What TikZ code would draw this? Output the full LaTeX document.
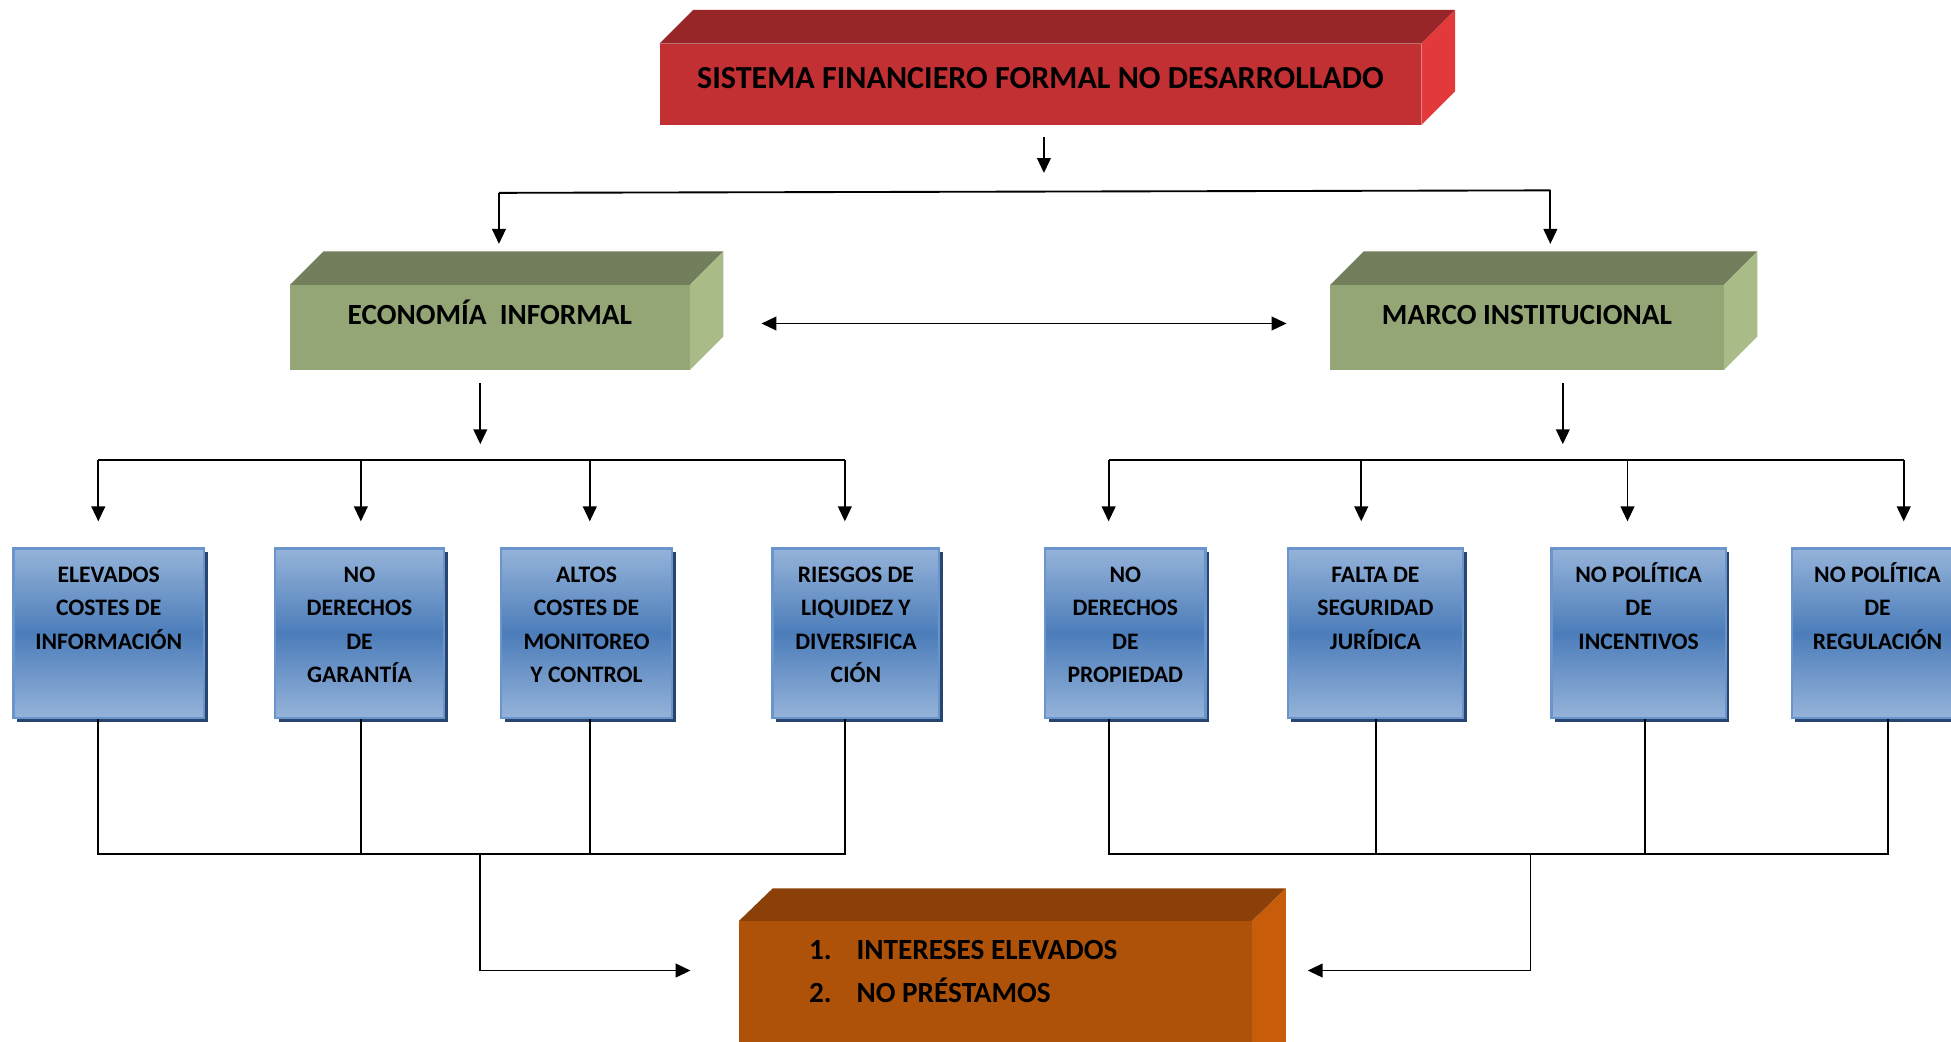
\documentclass[tikz,border=0pt]{standalone}
\usepackage{fontspec}
\setmainfont{Carlito}
\usetikzlibrary{arrows.meta,shadows}
\definecolor{redF}{HTML}{C33033}
\definecolor{redT}{HTML}{982628}
\definecolor{redS}{HTML}{E23A3A}
\definecolor{grnF}{HTML}{94A576}
\definecolor{grnT}{HTML}{737E5C}
\definecolor{grnS}{HTML}{A9BC88}
\definecolor{orgF}{HTML}{AD5208}
\definecolor{orgT}{HTML}{8A4008}
\definecolor{orgS}{HTML}{C75C0A}
\definecolor{blueL}{HTML}{95B3D9}
\definecolor{blueD}{HTML}{4C7DBA}
\definecolor{blueB}{HTML}{6A95CC}
\definecolor{blueS}{HTML}{27456E}
\tikzset{
  ln/.style={line width=1.5pt, black},
  arr/.style={ln, -{Triangle[length=12pt,width=11pt]}},
  darr/.style={ln, {Triangle[length=12pt,width=11pt]}-{Triangle[length=12pt,width=11pt]}},
  face/.style={rectangle, draw=none, inner sep=0pt, anchor=north west},
  bluebox/.style={rectangle, inner sep=0pt, anchor=north west, draw=blueB, line width=1.8pt,
    top color=blueL, bottom color=blueL, middle color=blueD,
    general shadow={fill=blueS, shadow xshift=3pt, shadow yshift=-3pt}},
  bigtxt/.style={font=\bfseries\fontsize{25.8}{30}\selectfont},
  midtxt/.style={font=\bfseries\fontsize{23.5}{28}\selectfont},
}
\newcommand{\bt}[2]{\parbox[t][136pt][t]{#1pt}{\centering\bfseries\fontsize{19}{27}\selectfont\vspace*{8pt}\strut #2}}
\begin{document}
\begin{tikzpicture}[x=1pt,y=-1pt]
\useasboundingbox (0,0) rectangle (1568,837);
\clip (0,0) rectangle (1568,837);
% top red box
\node[face, fill=redF, minimum width=612pt, minimum height=65pt] (top) at (530,35) {};
\fill[redT] (top.north west) -- ++(27pt,27pt) -- ([shift={(27pt,27pt)}]top.north east) -- (top.north east) -- cycle;
\fill[redS] (top.north east) -- ++(27pt,27pt) -- ([shift={(27pt,27pt)}]top.south east) -- (top.south east) -- cycle;
\node[bigtxt] (toptxt) at ([yshift=5pt]top.center) {SISTEMA FINANCIERO FORMAL NO DESARROLLADO};
% green boxes
\node[face, fill=grnF, minimum width=321pt, minimum height=68pt] (eco) at (233,229) {};
\fill[grnT] (eco.north west) -- ++(27pt,27pt) -- ([shift={(27pt,27pt)}]eco.north east) -- (eco.north east) -- cycle;
\fill[grnS] (eco.north east) -- ++(27pt,27pt) -- ([shift={(27pt,27pt)}]eco.south east) -- (eco.south east) -- cycle;
\node[midtxt, anchor=base] (ecotxt) at ([yshift=2.5pt]eco.center) {ECONOMÍA\ \ INFORMAL};
\node[face, fill=grnF, minimum width=316pt, minimum height=68pt] (mar) at (1069,229) {};
\fill[grnT] (mar.north west) -- ++(27pt,27pt) -- ([shift={(27pt,27pt)}]mar.north east) -- (mar.north east) -- cycle;
\fill[grnS] (mar.north east) -- ++(27pt,27pt) -- ([shift={(27pt,27pt)}]mar.south east) -- (mar.south east) -- cycle;
\node[midtxt, anchor=base] (martxt) at ([yshift=2.5pt]mar.center) {MARCO INSTITUCIONAL};
% orange box
\node[face, fill=orgF, minimum width=412pt, minimum height=130pt] (res) at (594,740) {};
\fill[orgT] (res.north west) -- ++(27pt,26pt) -- ([shift={(27pt,26pt)}]res.north east) -- (res.north east) -- cycle;
\fill[orgS] (res.north east) -- ++(27pt,26pt) -- ([shift={(27pt,26pt)}]res.south east) -- (res.south east) -- cycle;
\node[anchor=base west, inner sep=0pt, font=\bfseries\fontsize{23.5}{34}\selectfont] (restxt) at (650,771.5)
  {\begin{tabular}[t]{@{}l@{\hspace{20pt}}l@{}}1. & INTERESES ELEVADOS\\ 2. & NO PRÉSTAMOS\end{tabular}};
% blue boxes
\node[bluebox] (b1) at (10,440) {\bt{153}{ELEVADOS\\COSTES DE\\INFORMACIÓN}};
\node[bluebox] (b2) at (220,440) {\bt{136}{NO\\DERECHOS\\DE\\GARANTÍA}};
\node[bluebox] (b3) at (402,440) {\bt{137}{ALTOS\\COSTES DE\\MONITOREO\\Y CONTROL}};
\node[bluebox] (b4) at (620,440) {\bt{134}{RIESGOS DE\\LIQUIDEZ Y\\DIVERSIFICA\\CIÓN}};
\node[bluebox] (b5) at (839,440) {\bt{129}{NO\\DERECHOS\\DE\\PROPIEDAD}};
\node[bluebox] (b6) at (1034,440) {\bt{141}{FALTA DE\\SEGURIDAD\\JURÍDICA}};
\node[bluebox] (b7) at (1246,440) {\bt{140}{NO POLÍTICA\\DE\\INCENTIVOS}};
\node[bluebox] (b8) at (1439,440) {\bt{138}{NO POLÍTICA\\DE\\REGULACIÓN}};
% top connectors
\coordinate (t1) at (839,110); \coordinate (t2) at (839,139);
\draw[arr] (t1) -- (t2);
\coordinate (sl) at (401,155); \coordinate (sr) at (1246,153);
\coordinate (sle) at (401,196); \coordinate (sre) at (1246,196);
\draw[ln] (sl) -- (sr);
\draw[arr] (sl) -- (sle);
\draw[arr] (sr) -- (sre);
\coordinate (d1) at (612,260); \coordinate (d2) at (1034,260);
\draw[darr] (d1) -- (d2);
% distribution left
\coordinate (l1) at (386,308); \coordinate (l2) at (386,357);
\draw[arr] (l1) -- (l2);
\coordinate (la) at (79,370); \coordinate (lb) at (290,370); \coordinate (lc) at (474,370); \coordinate (ld) at (679,370);
\draw[ln] (la) -- (ld);
\foreach \c in {la,lb,lc,ld} \draw[arr] (\c) -- ++(0,49);
% distribution right
\coordinate (r1) at (1256,308); \coordinate (r2) at (1256,357);
\draw[arr] (r1) -- (r2);
\coordinate (ra) at (891,370); \coordinate (rb) at (1094,370); \coordinate (rc) at (1308,370); \coordinate (rd) at (1530,370);
\draw[ln] (ra) -- (rd);
\foreach \c in {ra,rb,rc,rd} \draw[arr] (\c) -- ++(0,49);
% bottom left collector
\coordinate (ma) at (79,686); \coordinate (mb) at (290,686); \coordinate (mc) at (474,686); \coordinate (md) at (679,686);
\draw[ln] (b1.south -| ma) -- (ma) -- (md) -- (b4.south -| md);
\draw[ln] (b2.south -| mb) -- (mb);
\draw[ln] (b3.south -| mc) -- (mc);
\coordinate (mj) at (386,686); \coordinate (me) at (555,780);
\draw[arr] (mj) |- (me);
% bottom right collector
\coordinate (na) at (891,686); \coordinate (nb) at (1106,686); \coordinate (nc) at (1322,686); \coordinate (nd) at (1517,686);
\draw[ln] (b5.south -| na) -- (na) -- (nd) -- (b8.south -| nd);
\draw[ln] (b6.south -| nb) -- (nb);
\draw[ln] (b7.south -| nc) -- (nc);
\coordinate (nj) at (1230,686); \coordinate (ne) at (1051,780);
\draw[arr] (nj) |- (ne);
\end{tikzpicture}
\end{document}
